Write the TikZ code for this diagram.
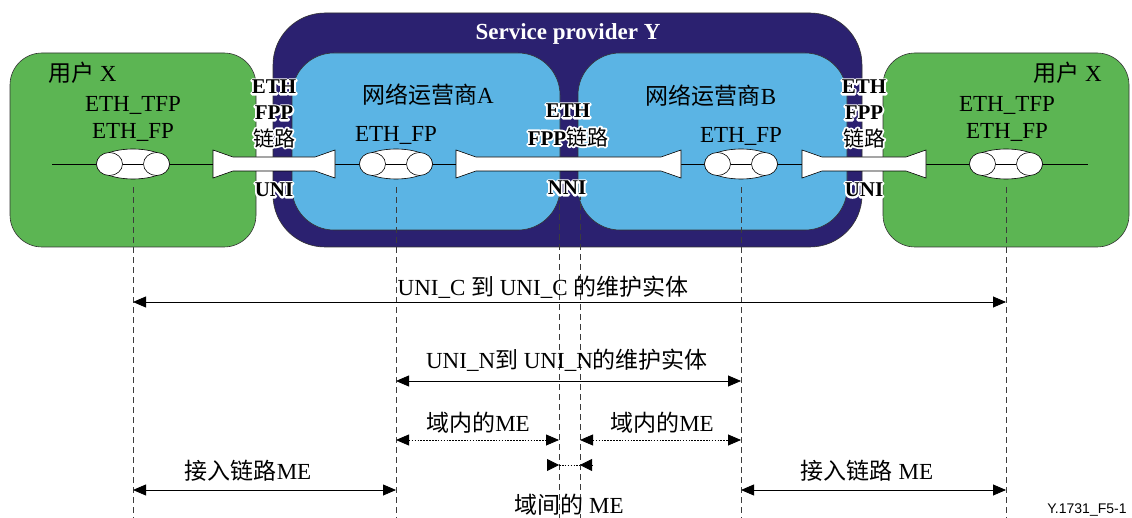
\documentclass[tikz,border=0pt]{standalone}
\usepackage{fontspec}
\setmainfont{Liberation Serif}
\setsansfont{Liberation Sans}
\newfontfamily\cjk{Noto Sans CJK SC}
\usetikzlibrary{arrows.meta,shapes.geometric,calc}

\definecolor{usergreen}{RGB}{92,181,83}
\definecolor{spnavy}{RGB}{43,33,112}
\definecolor{opblue}{RGB}{91,180,228}
\definecolor{guide}{RGB}{60,60,60}

\tikzset{
  userbox/.style={draw=black!80, line width=0.6pt, fill=usergreen, rounded corners=32pt},
  spbox/.style={draw=black!80, line width=0.6pt, fill=spnavy, rounded corners=52pt},
  opbox/.style={draw=black!80, line width=0.6pt, fill=opblue, rounded corners=42pt},
  lbl/.style={font=\fontsize{23}{25}\selectfont, inner sep=0pt},
  tag/.style={font=\fontsize{21}{23}\selectfont\bfseries, inner sep=0pt},
  sptitle/.style={font=\fontsize{23}{25}\selectfont\bfseries, text=white, inner sep=0pt},
  fpouter/.style={ellipse, draw, fill=white, minimum width=73pt, minimum height=30pt, inner sep=0pt, line width=0.6pt},
  fpinner/.style={ellipse, draw, fill=white, minimum width=26pt, minimum height=23pt, inner sep=0pt, line width=0.6pt},
  linkbar/.style={draw, fill=white, line width=0.6pt, line join=miter},
  guideline/.style={draw=guide, line width=0.7pt, dash pattern=on 6pt off 4pt},
  span/.style={line width=0.8pt, {Triangle[length=13pt,width=11pt]}-{Triangle[length=13pt,width=11pt]}},
  dotspan/.style={span, dash pattern=on 1.6pt off 1.3pt},
  tipin/.style={-{Triangle[length=12pt,width=12pt]}, line width=0.8pt},
}

% flow point: outer ellipse with two end ellipses joined by a bar
\newcommand\flowpoint[2]{%
  \node[fpouter] (#1) at (#2) {};
  \node[fpinner] (#1-l) at ($(#1.center)+(-23.5,0)$) {};
  \node[fpinner] (#1-r) at ($(#1.center)+(23.5,0)$) {};
  \draw[line width=0.6pt] (#1-l.east) -- (#1-r.west);
}

% ETH FPP link: a bar flared at both ends
\newcommand\fpplink[3]{%
  \coordinate (#1-w) at (#2,164);
  \coordinate (#1-e) at (#3,164);
  \draw[linkbar] ($(#1-w)+(0,-14)$) -- ($(#1-w)+(20,-7)$) -- ($(#1-e)+(-20,-7)$)
    -- ($(#1-e)+(0,-14)$) -- ($(#1-e)+(0,14)$) -- ($(#1-e)+(-20,7)$)
    -- ($(#1-w)+(20,7)$) -- ($(#1-w)+(0,14)$) -- cycle;
}

% bold label with a white outline: a stroked white copy under the black text
\newcommand\halo[3]{%
  \node[tag,text=white] at (#2)
    {\special{pdf:literal direct 2 Tr 3.6 w 1 j}#3\special{pdf:literal direct 0 Tr 0 j}};
  \node[tag] (#1) at (#2) {#3};
}

\begin{document}
\begin{tikzpicture}[x=1pt,y=-1pt]
\useasboundingbox (0,0) rectangle (1132,518);

% domains
\draw[userbox] (10,53) rectangle (256,247);
\draw[userbox] (883,53) rectangle (1129,247);
\draw[spbox] (273,13) rectangle (862,247);
\draw[opbox] (292,53) rectangle (560,230);
\draw[opbox] (578,53) rectangle (847,230);

\node[sptitle] (sp) at (568,34) {Service provider Y};

% main flow line
\coordinate (flowW) at (52,164);
\coordinate (flowE) at (1088,164);
\draw[line width=0.6pt] (flowW) -- (flowE);

% links
\fpplink{uniL}{213}{335}
\fpplink{nni}{456}{681}
\fpplink{uniR}{802}{926}

% flow points
\flowpoint{fpL}{133,164}
\flowpoint{fpA}{396,164}
\flowpoint{fpB}{741,164}
\flowpoint{fpR}{1006,164}

% vertical guides
\coordinate (bot) at (0,518);
\coordinate (nniL) at (559,194);
\coordinate (nniR) at (580,194);
\foreach \p in {fpL,fpA,fpB,fpR}
  \draw[guideline] ($(\p.south)+(0,8)$) -- (\p.south |- bot);
\draw[guideline] (nniL) -- (nniL |- bot);
\draw[guideline] (nniR) -- (nniR |- bot);

% domain labels
\node[lbl, anchor=west] (ux1) at (48,73) {{\cjk 用户} X};
\node[lbl, anchor=east] (ux2) at (1102,73) {{\cjk 用户} X};
\node[lbl] (tfp1) at (133,105) {ETH\_TFP};
\node[lbl] (efp1) at (133,132) {ETH\_FP};
\node[lbl] (tfp2) at (1007,105) {ETH\_TFP};
\node[lbl] (efp2) at (1007,132) {ETH\_FP};
\node[lbl] (opA) at (428,95) {{\cjk 网络运营商}A};
\node[lbl] (opB) at (711,96) {{\cjk 网络运营商}B};
\node[lbl] (efpA) at (396,135) {ETH\_FP};
\node[lbl] (efpB) at (741,136) {ETH\_FP};

% link labels
\halo{l1}{274,87}{ETH}
\halo{l2}{274,113}{FPP}
\halo{l3}{274,138}{{\cjk\mdseries 链路}}
\halo{l4}{274,190}{UNI}
\halo{m1}{568,111}{ETH}
\halo{m2}{568,137}{FPP{\cjk\mdseries 链路}}
\halo{m3}{567,188}{NNI}
\halo{r1}{864,87}{ETH}
\halo{r2}{864,113}{FPP}
\halo{r3}{864,138}{{\cjk\mdseries 链路}}
\halo{r4}{864,190}{UNI}

% maintenance entities
\coordinate (yC) at (0,302);
\coordinate (yN) at (0,381);
\coordinate (yI) at (0,440);
\coordinate (yX) at (0,465);
\coordinate (yA) at (0,490);

\node[lbl] (tC) at (543,287) {UNI\_C {\cjk 到} UNI\_C {\cjk 的维护实体}};
\draw[span] (fpL |- yC) -- (fpR |- yC);

\node[lbl] (tN) at (567,360) {UNI\_N{\cjk 到} UNI\_N{\cjk 的维护实体}};
\draw[span] (fpA |- yN) -- (fpB |- yN);

\node[lbl] (tIa) at (478,423) {{\cjk 域内的}ME};
\node[lbl] (tIb) at (662,423) {{\cjk 域内的}ME};
\draw[dotspan] (fpA |- yI) -- (nniL |- yI);
\draw[dotspan] (nniR |- yI) -- (fpB |- yI);

\coordinate (xL) at (nniL |- yX);
\coordinate (xR) at (nniR |- yX);
\draw[line width=0.8pt, dash pattern=on 1.6pt off 1.3pt] (xL) -- (xR);
\draw[tipin] ($(xL)+(-12,0)$) -- (xL);
\draw[tipin] ($(xR)+(12,0)$) -- (xR);
\node[lbl] (tX) at (569,505) {{\cjk 域间的} ME};

\node[lbl] (tAa) at (248,471) {{\cjk 接入链路}ME};
\node[lbl] (tAb) at (867,471) {{\cjk 接入链路} ME};
\draw[span] (fpL |- yA) -- (fpA |- yA);
\draw[span] (fpB |- yA) -- (fpR |- yA);

\node[font=\sffamily\fontsize{14}{16}\selectfont, inner sep=0pt] (fig) at (1087,510) {Y.1731\_F5-1};
\end{tikzpicture}
\end{document}
